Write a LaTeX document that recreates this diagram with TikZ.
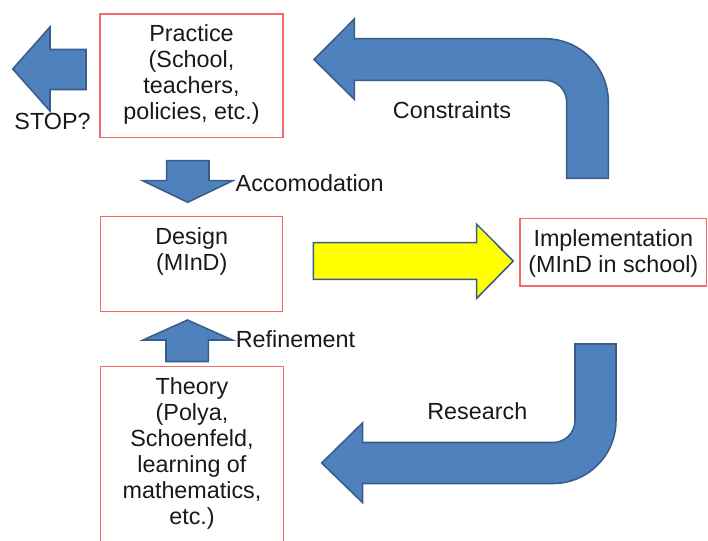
\documentclass[tikz,border=0pt]{standalone}
\usepackage{fontspec}
\setmainfont{Liberation Sans}
\usetikzlibrary{positioning}
\definecolor{boxred}{RGB}{245,105,105}
\definecolor{arrowblue}{RGB}{79,129,189}
\definecolor{arrowedge}{RGB}{56,93,138}
\definecolor{arrowyellow}{RGB}{255,255,0}
\begin{document}
\begin{tikzpicture}[x=.025cm,y=-.025cm]
            \tikzset{
	every node/.style={font=\fontsize{16.6pt}{18.5pt}\selectfont, text=black!90},
	box/.style={draw=boxred, line width=.9pt, inner sep=0pt},
	boxtext/.style={align=center, inner sep=0pt},
	blockarrow/.style={fill=arrowblue, draw=arrowedge, line width=1.1pt}
}

\useasboundingbox (0,0) rectangle (708,540);
\clip (0,0) rectangle (708,540);

% the four boxes
\node[box, minimum width=4.575cm, minimum height=3.09cm] (practice) at (191.5,75.8) {};
\node[box, minimum width=4.55cm, minimum height=2.375cm] (design) at (191.7,264.2) {};
\node[box, minimum width=4.565cm, minimum height=4.63cm] (theory) at (192,459.3) {};
\node[box, minimum width=4.67cm, minimum height=1.69cm] (impl) at (613.3,252.2) {};

\node[boxtext, below=.28cm of practice.north] (practicetext) {Practice\\(School,\\teachers,\\policies, etc.)};
\node[boxtext, below=.28cm of design.north] (designtext) {Design\\(MInD)};
\node[boxtext, below=.28cm of theory.north] (theorytext) {Theory\\(Polya,\\Schoenfeld,\\learning of\\mathematics,\\etc.)};
\node[boxtext, below=.28cm of impl.north] (impltext) {Implementation\\(MInD in school)};

% block arrows
\draw[blockarrow] (86,49.5) -- (50,49.5) -- (50,27) -- (12.7,69) -- (50,111) -- (50,89.5) -- (86,89.5) -- cycle;
\draw[blockarrow] (166.7,160.7) -- (209,160.7) -- (209,180.7) -- (232.7,180.7) -- (187.7,202.3)
	-- (142.7,180.7) -- (166.7,180.7) -- cycle;
\draw[blockarrow] (166,361.7) -- (208.3,361.7) -- (208.3,340) -- (232.3,340) -- (187.5,320)
	-- (143,340) -- (166,340) -- cycle;
\draw[blockarrow, fill=arrowyellow] (313.3,242.7) -- (476.7,242.7) -- (476.7,224.3) -- (513.3,261)
	-- (476.7,298.3) -- (476.7,279.3) -- (313.3,279.3) -- cycle;
\draw[blockarrow] (566.7,178.3) -- (608.3,178.3) -- (608.3,102) arc[start angle=0, end angle=-90, radius=63.3]
	-- (354.3,38.7) -- (354.3,19) -- (314,59.5) -- (354.3,99.3) -- (354.3,80.3)
	-- (545,80.3) arc[start angle=-90, end angle=0, radius=21.7] -- cycle;
\draw[blockarrow] (575,344) -- (616,344) -- (616,420.5) arc[start angle=0, end angle=90, radius=63]
	-- (362.7,483.5) -- (362.7,502.7) -- (321.7,463) -- (362.7,422.7) -- (362.7,442.5)
	-- (553,442.5) arc[start angle=90, end angle=0, radius=22] -- cycle;

% arrow labels
\node[anchor=base] (stop) at (52.5,129) {STOP?};
\node[anchor=base] (constraints) at (452,118.3) {Constraints};
\node[anchor=base] (accomodation) at (309.7,191) {Accomodation};
\node[anchor=base] (refinement) at (295.5,347.5) {Refinement};
\node[anchor=base] (research) at (477.3,419.3) {Research};
        \end{tikzpicture}
\end{document}
